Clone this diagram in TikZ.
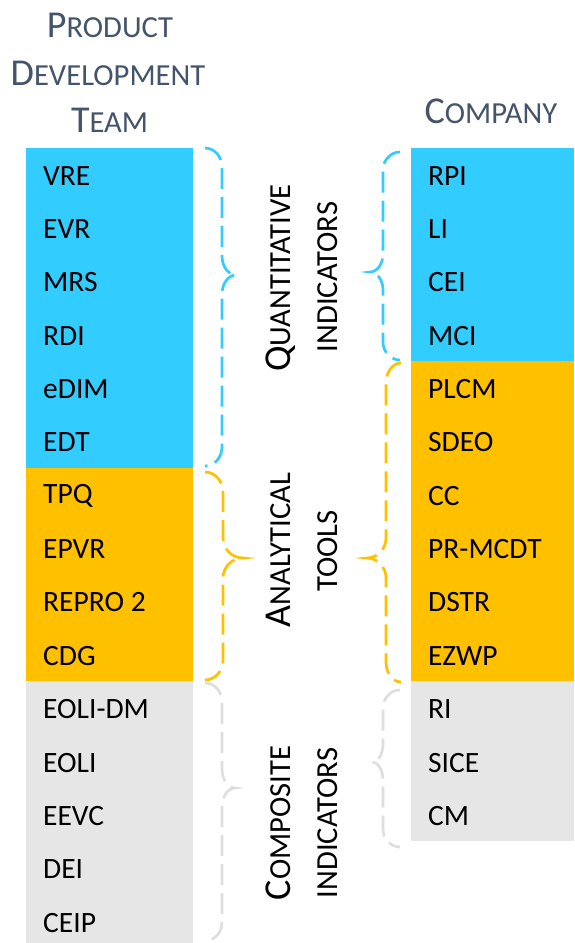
\documentclass[tikz,border=0pt]{standalone}
\usepackage{fontspec}
\setmainfont{Carlito}
\definecolor{cblue}{HTML}{33CCFF}
\definecolor{corange}{HTML}{FFC000}
\definecolor{cgrey}{HTML}{E6E6E6}
\definecolor{bgrey}{HTML}{DEDEDE}
\definecolor{headc}{HTML}{44546A}
\newcommand\mysc[2]{#1{\fontsize{30.6}{31}\selectfont #2}}
\newcommand\mybrace[8]{%
  \draw[bracestyle,#1] (#2,#5) .. controls ({#2+0.55*(#3-#2)},#5) and (#3,{#5+0.45*#8}) .. (#3,{#5+#8})
    -- (#3,{#6-#8}) .. controls (#3,{#6-0.45*#8}) and ({#4-0.55*(#4-#3)},#6) .. (#4,#6)
    .. controls ({#4-0.55*(#4-#3)},#6) and (#3,{#6+0.45*#8}) .. (#3,{#6+#8})
    -- (#3,{#7-#8}) .. controls (#3,{#7-0.45*#8}) and ({#2+0.55*(#3-#2)},#7) .. (#2,#7);}
\tikzset{
  bracestyle/.style={line width=2.7pt, dash pattern=on 21pt off 8pt},
  cell/.style={anchor=west, inner sep=0pt, font=\fontsize{29.5}{32}\selectfont, text=black},
  head/.style={anchor=base, inner sep=0pt, text=headc, font=\fontsize{38}{40}\selectfont},
  vlab/.style={anchor=base, inner sep=0pt, rotate=90, text=black, font=\fontsize{38}{40}\selectfont},
}
\begin{document}
\begin{tikzpicture}[x=1pt,y=-1pt]
\useasboundingbox (0,0) rectangle (574,943);
% headers
\node[head] (h1) at (110,37) {\mysc{P}{RODUCT}};
\node[head] (h2) at (108,85) {\mysc{D}{EVELOPMENT}};
\node[head] (h3) at (109.5,132) {\mysc{T}{EAM}};
\node[head] (h4) at (491,123) {\mysc{C}{OMPANY}};
% colour bands
\fill[cblue] (26,148) rectangle (192.5,467.8);
\fill[corange] (26,467.8) rectangle (192.5,681.2);
\fill[cgrey] (26,681.2) rectangle (192.5,950);
\fill[cblue] (411,148) rectangle (574,361.2);
\fill[corange] (411,361.2) rectangle (574,681.2);
\fill[cgrey] (411,681.2) rectangle (574,841.2);
% cells
\foreach \t [count=\i from 0] in {VRE,EVR,MRS,RDI,eDIM,EDT,TPQ,EPVR,REPRO 2,CDG,EOLI-DM,EOLI,EEVC,DEI,CEIP}
  \node[cell] (L\i) at (43,{149+(\i+0.5)*53.35}) {\t};
\foreach \t [count=\i from 0] in {RPI,LI,CEI,MCI,PLCM,SDEO,CC,PR-MCDT,DSTR,EZWP,RI,SICE,CM}
  \node[cell] (R\i) at (428,{149+(\i+0.5)*53.35}) {\t};
% braces
\mybrace{cblue}{205}{222}{236}{148}{275}{466}{19}
\mybrace{corange}{205}{223}{243}{472}{558}{680}{20}
\mybrace{bgrey}{205}{222}{235}{683}{788}{941}{19}
\mybrace{cblue}{400}{383}{370}{152}{272}{360}{18}
\mybrace{corange}{401}{386}{367}{363}{558}{682}{20}
\mybrace{bgrey}{400}{383}{372}{690}{762}{847}{18}
% rotated labels
\node[vlab] (q1) at (290,278) {\mysc{Q}{UANTITATIVE}};
\node[vlab] (q2) at (337,277) {\mysc{}{INDICATORS}};
\node[vlab] (a1) at (290,550) {\mysc{A}{NALYTICAL}};
\node[vlab] (a2) at (337,551) {\mysc{}{TOOLS}};
\node[vlab] (c1) at (290,823) {\mysc{C}{OMPOSITE}};
\node[vlab] (c2) at (337,823) {\mysc{}{INDICATORS}};
\end{tikzpicture}
\end{document}
